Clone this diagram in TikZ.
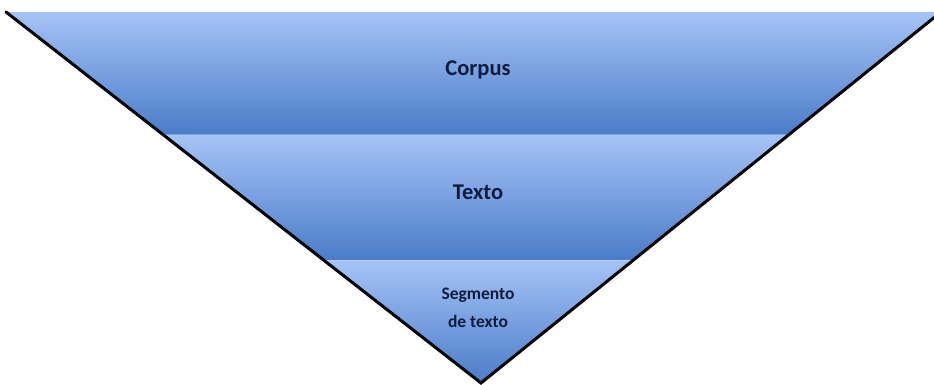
\documentclass[tikz,border=0pt]{standalone}
\usepackage{fontspec}
\setmainfont{Carlito}
\definecolor{bandlight}{RGB}{165,195,246}
\definecolor{banddark}{RGB}{74,124,200}
\definecolor{labelnavy}{RGB}{16,28,62}
\begin{document}
\begin{tikzpicture}[x=1pt,y=-1pt,
  band/.style={top color=bandlight,bottom color=banddark,draw=none},
  edge/.style={draw=black,line width=3pt,line cap=round},
  label/.style={font=\bfseries\fontsize{22.5}{26}\selectfont,text=labelnavy,align=center},
  smalllabel/.style={font=\bfseries\fontsize{17.5}{28}\selectfont,text=labelnavy,align=center}]
\useasboundingbox (0,0) rectangle (934,385);
\clip (0,0) rectangle (934,385);
% geometry
\coordinate (lt) at (6,12);
\coordinate (rt) at (941,12);
\coordinate (ap) at (481,383);
\coordinate (l1) at (164.4,135);
\coordinate (r1) at (788.5,135);
\coordinate (l2) at (324.4,260);
\coordinate (r2) at (633.5,260);
% bands
\shade[band] (lt) -- (rt) -- (r1) -- (l1) -- cycle;
\shade[band] (l1) -- (r1) -- (r2) -- (l2) -- cycle;
\shade[band] (l2) -- (r2) -- (ap) -- cycle;
% highlight lines on top of each band
\draw[white,opacity=0.35,line width=1pt] (lt) -- (rt);
\draw[white,opacity=0.25,line width=1pt] (l1) -- (r1);
\draw[white,opacity=0.25,line width=1pt] (l2) -- (r2);
% outline
\draw[edge] (lt) -- (ap) -- (rt);
% labels
\node[label] (corpus) at (478,70) {Corpus};
\node[label] (texto) at (478,192) {Texto};
\node[smalllabel] (seg) at (478,308) {Segmento\\de texto};
\end{tikzpicture}
\end{document}
